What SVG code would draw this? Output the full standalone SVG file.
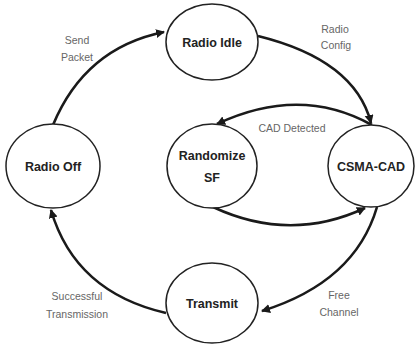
<svg xmlns="http://www.w3.org/2000/svg" width="416" height="350" viewBox="0 0 416 350">
<style>
.node{fill:#fff;stroke:#222;stroke-width:1.5}
.nt{font-family:"Liberation Sans",Arial,sans-serif;font-weight:bold;font-size:12.5px;fill:#222;text-anchor:middle}
.lt{font-family:"Liberation Sans",Arial,sans-serif;font-size:10.5px;fill:#666;text-anchor:middle}
.edge{fill:none;stroke:#1a1a1a;stroke-width:2.6;marker-end:url(#ah)}
</style>
<defs>
<marker id="ah" markerWidth="12" markerHeight="12" refX="8" refY="4.5" orient="auto" markerUnits="userSpaceOnUse">
<path d="M0,0 L9,4.5 L0,9 Z" fill="#1a1a1a"/>
</marker>
</defs>
<rect width="416" height="350" fill="#fff"/>
<g id="connectors">
<path class="edge" d="M53,125 Q85,48 164,32"/>
<path class="edge" d="M258,36 Q355,60 371,123"/>
<path class="edge" d="M372,125 Q300,85 217,124"/>
<path class="edge" d="M213,207 Q290,243 365,208"/>
<path class="edge" d="M377,207 Q355,282 262,311"/>
<path class="edge" d="M166,313 Q75,292 51,210"/>
</g>
<g id="labels">
<text class="lt" x="77" y="44">Send</text>
<text class="lt" x="77" y="61">Packet</text>
<text class="lt" x="335" y="33">Radio</text>
<text class="lt" x="336" y="49">Config</text>
<text class="lt" x="292" y="132">CAD Detected</text>
<text class="lt" x="77" y="300">Successful</text>
<text class="lt" x="77" y="318">Transmission</text>
<text class="lt" x="339" y="299">Free</text>
<text class="lt" x="339" y="316">Channel</text>
</g>
<g id="radio-idle"><ellipse class="node" cx="212" cy="42" rx="46" ry="38"/><text class="nt" x="212" y="47">Radio Idle</text></g>
<g id="radio-off"><ellipse class="node" cx="53" cy="166" rx="47" ry="42"/><text class="nt" x="53" y="171">Radio Off</text></g>
<g id="randomize-sf"><ellipse class="node" cx="212" cy="166" rx="45" ry="42"/><text class="nt" x="212" y="160">Randomize</text><text class="nt" x="212" y="182">SF</text></g>
<g id="csma-cad"><ellipse class="node" cx="371" cy="166" rx="43" ry="41"/><text class="nt" x="371" y="171">CSMA-CAD</text></g>
<g id="transmit"><ellipse class="node" cx="212" cy="303" rx="46" ry="40"/><text class="nt" x="212" y="308">Transmit</text></g>
</svg>
